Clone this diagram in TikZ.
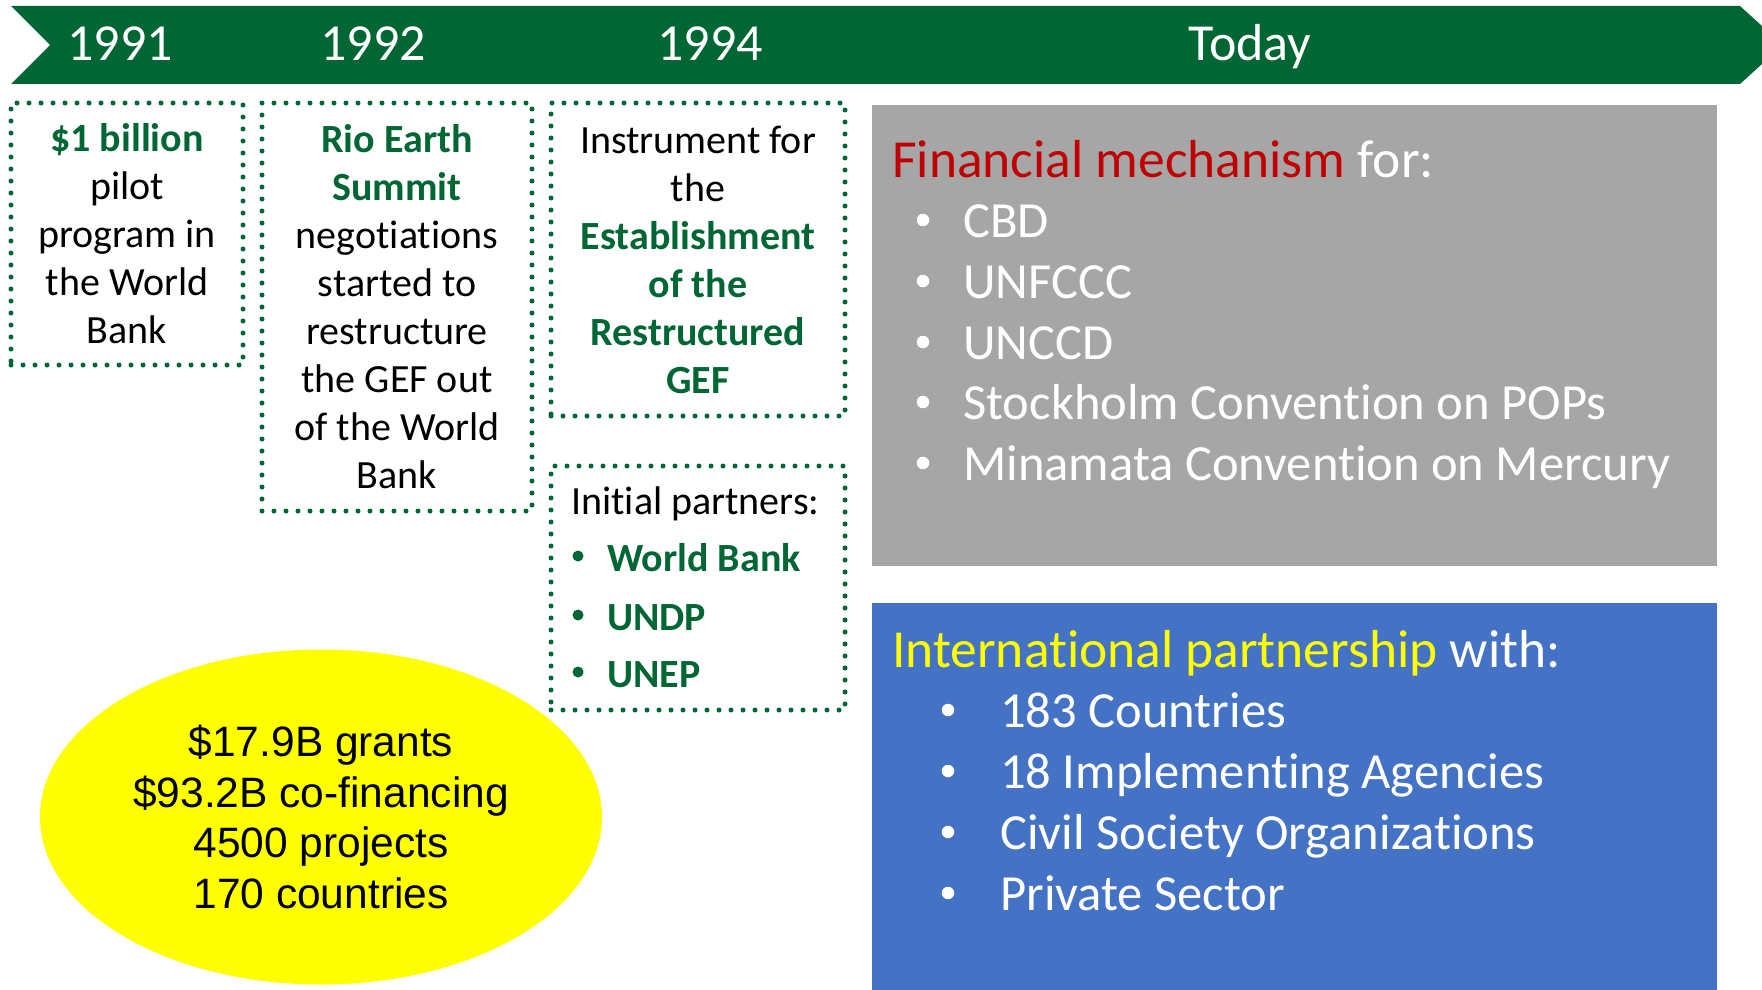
\documentclass[tikz,border=0pt]{standalone}
\usepackage{fontspec}
\setmainfont{Carlito}[Ligatures={NoCommon}, RawFeature={-liga;-clig;-calt}]
\newfontfamily\arialf{Liberation Sans}
\usetikzlibrary{shapes.geometric}
\definecolor{gefgreen}{RGB}{0,102,51}
\definecolor{boxgray}{RGB}{166,166,166}
\definecolor{boxblue}{RGB}{68,114,196}
\definecolor{darkred}{RGB}{192,0,0}
\definecolor{brightyellow}{RGB}{255,255,0}
\begin{document}
\begin{tikzpicture}[x=1pt,y=-1pt,
  year/.style={anchor=base, text=white, font=\fontsize{52}{60}\selectfont, inner sep=0},
  dotbox/.style={draw=gefgreen, line width=5pt, dash pattern=on 0pt off 12pt, line cap=round,
     rectangle, inner sep=0, align=center, font=\fontsize{40}{48}\selectfont},
  panel/.style={rectangle, inner sep=0, minimum width=845},
  item/.style={anchor=base west, inner sep=0, text=white, font=\fontsize{50.6}{60}\selectfont},
  ptitle/.style={anchor=base west, inner sep=0, text=white, font=\fontsize{53.5}{60}\selectfont},
  wbul/.style={circle, fill=white, inner sep=0, minimum size=12.5pt},
  gbul/.style={circle, fill=gefgreen, inner sep=0, minimum size=11pt},
  pitem/.style={anchor=base west, inner sep=0, text=gefgreen, font=\bfseries\fontsize{40}{48}\selectfont},
]
\useasboundingbox (0,0) rectangle (1762,990);
% banner
\fill[gefgreen] (11,6) -- (1740,6) -- (1762,26) -- (1762,64) -- (1740,84) -- (11,84) -- (50,45) -- cycle;
\node[year] (y1991) at (120,61) {1991};
\node[year] (y1992) at (373,61) {1992};
\node[year] (y1994) at (710,61) {1994};
\node[year] (ytoday) at (1250,61) {Today};
% dotted boxes
\node[dotbox, minimum width=232, minimum height=262] (b1) at (127,234)
  {{\bfseries\color{gefgreen}\$1 billion}\\ pilot\\ program in\\ the World\\ Bank};
\node[dotbox, minimum width=270, minimum height=408] (b2) at (397,307)
  {{\bfseries\color{gefgreen}Rio Earth}\\ {\bfseries\color{gefgreen}Summit}\\ negotiations\\ started to\\ restructure\\ the GEF out\\ of the World\\ Bank};
\node[dotbox, minimum width=294, minimum height=313] (b3) at (698,259.5)
  {Instrument for\\ the\\ {\bfseries\color{gefgreen}Establishment}\\ {\bfseries\color{gefgreen}of the}\\ {\bfseries\color{gefgreen}Restructured}\\ {\bfseries\color{gefgreen}GEF}};
\node[dotbox, minimum width=294, minimum height=244] (b4) at (698,588) {};
\node[anchor=base west, inner sep=0, font=\fontsize{40}{48}\selectfont] (p0) at (571,514) {Initial partners:};
\node[gbul] (p1b) at (578,556) {};
\node[pitem] (p1) at (607,571) {World Bank};
\node[gbul] (p2b) at (578,615) {};
\node[pitem] (p2) at (607,630) {UNDP};
\node[gbul] (p3b) at (578,672) {};
\node[pitem] (p3) at (607,687) {UNEP};
% gray panel
\node[panel, fill=boxgray, minimum height=461] (fin) at (1294.5,335.5) {};
\node[ptitle] (fint) at (892,177) {\textcolor{darkred}{Financial mechanism} for:};
\node[wbul] (f1b) at (923,220) {};
\node[item] (f1) at (963,237) {CBD};
\node[wbul] (f2b) at (923,281) {};
\node[item] (f2) at (963,298) {UNFCCC};
\node[wbul] (f3b) at (923,342) {};
\node[item] (f3) at (963,359) {UNCCD};
\node[wbul] (f4b) at (923,402) {};
\node[item] (f4) at (963,419) {Stockholm Convention on POPs};
\node[wbul] (f5b) at (923,463) {};
\node[item] (f5) at (963,480) {Minamata Convention on Mercury};
% blue panel
\node[panel, fill=boxblue, minimum height=387] (part) at (1294.5,796.5) {};
\node[ptitle] (partt) at (892,667) {\textcolor{brightyellow}{International partnership} with:};
\node[wbul] (q1b) at (948,710) {};
\node[item] (q1) at (1000,727) {183 Countries};
\node[wbul] (q2b) at (948,771) {};
\node[item] (q2) at (1000,788) {18 Implementing Agencies};
\node[wbul] (q3b) at (948,832) {};
\node[item] (q3) at (1000,849) {Civil Society Organizations};
\node[wbul] (q4b) at (948,893) {};
\node[item] (q4) at (1000,910) {Private Sector};
% ellipse
\node[ellipse, fill=brightyellow, minimum width=562, minimum height=335, inner sep=0, align=center,
  font=\arialf\fontsize{42.5}{50.5}\selectfont] (stats) at (321,817)
  {\$17.9B grants\\ \$93.2B co-financing\\ 4500 projects\\ 170 countries};
\end{tikzpicture}
\end{document}
